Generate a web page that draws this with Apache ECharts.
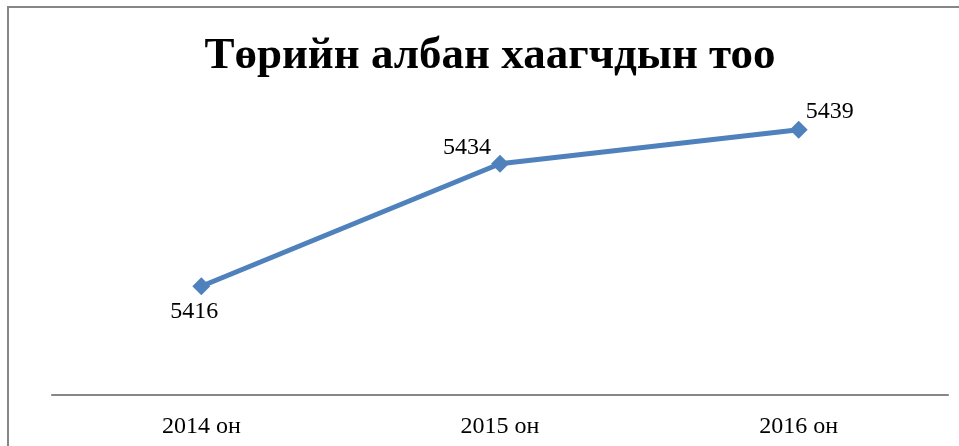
<!DOCTYPE html>
<html>
<head>
<meta charset="utf-8">
<script src="https://cdn.jsdelivr.net/npm/echarts@6/dist/echarts.min.js"></script>
<style>
    html, body { margin: 0; padding: 0; background: #fff; }
    #chart { width: 959px; height: 446px; }
</style>
</head>
<body>
<div id="chart"></div>
<script>
    var years = ['2014 он', '2015 он', '2016 он'];
    var employees = [5416, 5434, 5439];
    // label offsets from each marker centre
    var labelOffsets = [[-7, 26], [-33, -16], [31, -18]];

    var chart = echarts.init(document.getElementById('chart'));
    var font = '"Liberation Serif", "Times New Roman", serif';

    var option = {
        animation: false,
        graphic: [{
            type: 'rect',
            shape: { x: 8, y: 7, width: 1000, height: 1000 },
            style: { fill: 'none', stroke: '#868686', lineWidth: 2 },
            silent: true
        }],
        title: {
            text: 'Төрийн албан хаагчдын тоо',
            left: 485,
            textAlign: 'center',
            top: 29,
            textStyle: {
                fontFamily: font,
                fontWeight: 'bold',
                fontSize: 45,
                color: '#000'
            }
        },
        grid: {
            left: 52,
            right: 11,
            top: 123,
            bottom: 51
        },
        xAxis: {
            type: 'category',
            data: years,
            boundaryGap: true,
            axisLine: { lineStyle: { color: '#868686', width: 2 } },
            axisTick: { show: false },
            axisLabel: {
                margin: 20,
                fontFamily: font,
                fontSize: 24,
                color: '#000'
            }
        },
        yAxis: {
            type: 'value',
            min: 5400,
            max: 5440,
            show: false,
            splitLine: { show: false }
        },
        series: [{
            type: 'line',
            data: employees.map(function (v, i) {
                return {
                    value: v,
                    label: { offset: labelOffsets[i] }
                };
            }),
            symbol: 'diamond',
            symbolSize: 18,
            lineStyle: { color: '#4F81BD', width: 5 },
            itemStyle: { color: '#4F81BD' },
            label: {
                show: true,
                position: 'inside',
                fontFamily: font,
                fontSize: 24,
                color: '#000'
            }
        }]
    };

    chart.setOption(option);
</script>
</body>
</html>
